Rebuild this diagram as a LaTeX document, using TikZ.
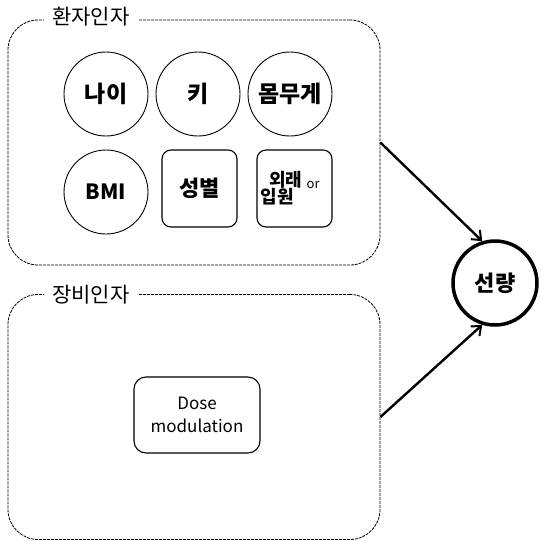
\documentclass[tikz,border=0pt]{standalone}
\usepackage{fontspec}
\setmainfont{Noto Sans CJK KR}
\usetikzlibrary{arrows.meta}
\begin{document}
\begin{tikzpicture}[x=1pt,y=-1pt,
  grp/.style={draw, line width=0.8pt, dash pattern=on 3pt off 1pt, rounded corners=30pt, minimum width=372pt, minimum height=245pt, inner sep=0pt},
  grplabel/.style={fill=white, inner xsep=8pt, inner ysep=1pt, font=\fontsize{21}{23}\selectfont},
  fcircle/.style={draw, circle, line width=0.9pt, minimum size=84pt, inner sep=0pt, font=\fontsize{23}{25}\selectfont\bfseries},
  fbox/.style={draw, rounded corners=9pt, line width=1.1pt, minimum width=75pt, minimum height=77pt, inner sep=0pt, align=center},
  conn/.style={line width=2.4pt, -{Straight Barb[length=8pt,width=13pt,line width=2pt]}}
]
\useasboundingbox (0,0) rectangle (541,542);
\node[grp] (g1) at (194,142.5) {};
\node[grplabel] (l1) at (91,17) {환자인자};
\node[grp] (g2) at (194,417) {};
\node[grplabel] (l2) at (91,295) {장비인자};

\node[fcircle] (age) at (106,94) {나이};
\node[fcircle] (ht) at (198,94) {키};
\node[fcircle] (wt) at (290,94) {몸무게};
\node[fcircle, font=\fontsize{21}{23}\selectfont\bfseries] (bmi) at (106,192) {BMI};
\node[fbox, font=\fontsize{22}{24}\selectfont\bfseries] (sex) at (199.5,188.5) {성별};
\node[fbox, font=\fontsize{18}{20}\selectfont\bfseries] (op) at (294.5,188.5) {외래 \raisebox{-2pt}{\fontsize{13}{15}\selectfont\mdseries or}\\[-3pt]입원\hphantom{외 {\fontsize{13}{15}\selectfont or}}};
\node[draw, rounded corners=12pt, line width=1.1pt, minimum width=126pt, minimum height=76pt, inner sep=0pt, align=center, font=\fontsize{17}{23}\selectfont] (dm) at (197,415) {Dose\\modulation};

\node[draw, circle, line width=3.5pt, minimum size=84pt, inner sep=0pt, font=\fontsize{22}{24}\selectfont\bfseries] (dose) at (495,283) {선량};

\draw[conn] (g1.east) -- (dose.107);
\draw[conn] (g2.east) -- (dose.253);
\end{tikzpicture}
\end{document}
